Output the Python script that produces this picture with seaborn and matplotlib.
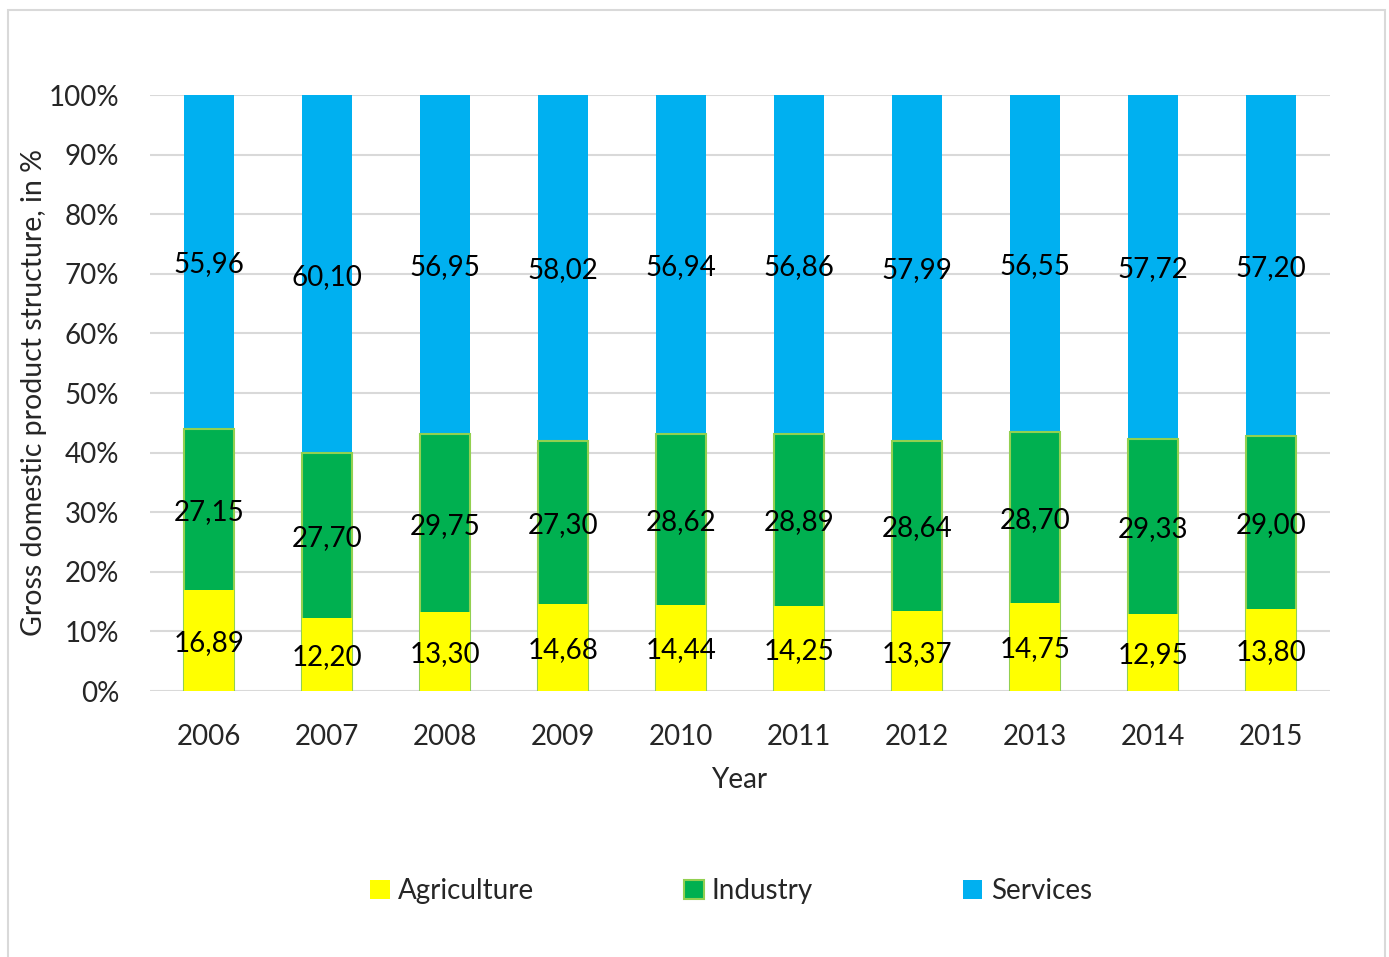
import matplotlib
matplotlib.use("Agg")
import matplotlib.pyplot as plt
import seaborn as sns
import pandas as pd
import numpy as np
from matplotlib.patches import Rectangle, Patch

years = ["2006", "2007", "2008", "2009", "2010", "2011", "2012", "2013", "2014", "2015"]
agriculture = [16.89, 12.20, 13.30, 14.68, 14.44, 14.25, 13.37, 14.75, 12.95, 13.80]
industry = [27.15, 27.70, 29.75, 27.30, 28.62, 28.89, 28.64, 28.70, 29.33, 29.00]
services = [55.96, 60.10, 56.95, 58.02, 56.94, 56.86, 57.99, 56.55, 57.72, 57.20]

c_agri = "#FFFF00"
c_ind = "#00B050"
c_serv = "#00B0F0"

sns.set_theme(style="white")
plt.rcParams["font.family"] = ["Lato", "DejaVu Sans"]

df = pd.DataFrame({"Year": years, "Agriculture": agriculture,
                   "Industry": industry, "Services": services})
df["cum_ind"] = df["Agriculture"] + df["Industry"]
df["cum_serv"] = df["cum_ind"] + df["Services"]

W, H = 1389, 957
fig = plt.figure(figsize=(W / 100, H / 100), dpi=100)
ax = fig.add_axes([150 / W, 1 - 691 / H, 1180 / W, 596 / H])

bw = 0.42
sns.barplot(data=df, x="Year", y="cum_serv", color=c_serv, saturation=1,
            width=bw, ax=ax, linewidth=0, zorder=2)
sns.barplot(data=df, x="Year", y="cum_ind", color=c_ind, saturation=1,
            width=bw, ax=ax, edgecolor="#92D050", linewidth=1.5, zorder=2)
sns.barplot(data=df, x="Year", y="Agriculture", color=c_agri, saturation=1,
            width=bw, ax=ax, linewidth=0, zorder=2)

fs = 20
for i in range(len(years)):
    a, ind, s = agriculture[i], industry[i], services[i]
    for val, center in ((a, a / 2), (ind, a + ind / 2), (s, a + ind + s / 2)):
        ax.text(i, center, f"{val:.2f}".replace(".", ","), ha="center",
                va="center_baseline", fontsize=fs, color="black", zorder=5)

ax.set_xlim(-0.5, len(years) - 0.5)
ax.set_ylim(0, 100)
ax.set_yticks(np.arange(0, 101, 10))
ax.set_yticklabels([f"{v}%" for v in range(0, 101, 10)])
ax.yaxis.grid(True, color="#D9D9D9", linewidth=1.5, zorder=0)
ax.set_axisbelow(True)
for sp in ax.spines.values():
    sp.set_visible(False)
ax.tick_params(axis="y", length=0, pad=22, labelsize=fs)
ax.tick_params(axis="x", length=0, pad=24, labelsize=fs)
ax.set_xlabel("")
ax.set_ylabel("")

fig.text(739 / W, 1 - 780 / H, "Year", ha="center", va="center", fontsize=fs)
fig.text(34 / W, 1 - 393 / H, "Gross domestic product structure, in %",
         rotation=90, ha="center", va="center", fontsize=20.5)

handles = [Patch(facecolor=c_agri, edgecolor="none"),
           Patch(facecolor=c_ind, edgecolor="#92D050", linewidth=1.5),
           Patch(facecolor=c_serv, edgecolor="none")]
fig.legend(handles, ["Agriculture", "Industry", "Services"], ncol=3,
           loc="center", bbox_to_anchor=(731 / W, 1 - 891 / H), frameon=False,
           fontsize=fs, handlelength=0.7, handleheight=0.7, handletextpad=0.3,
           columnspacing=5.4)

fig.patches.append(Rectangle((8 / W, -0.01), 1377 / W, 1 - 10 / H + 0.01,
                             transform=fig.transFigure, fill=False,
                             edgecolor="#D9D9D9", linewidth=1.5))

fig.savefig("out.png", dpi=100)
